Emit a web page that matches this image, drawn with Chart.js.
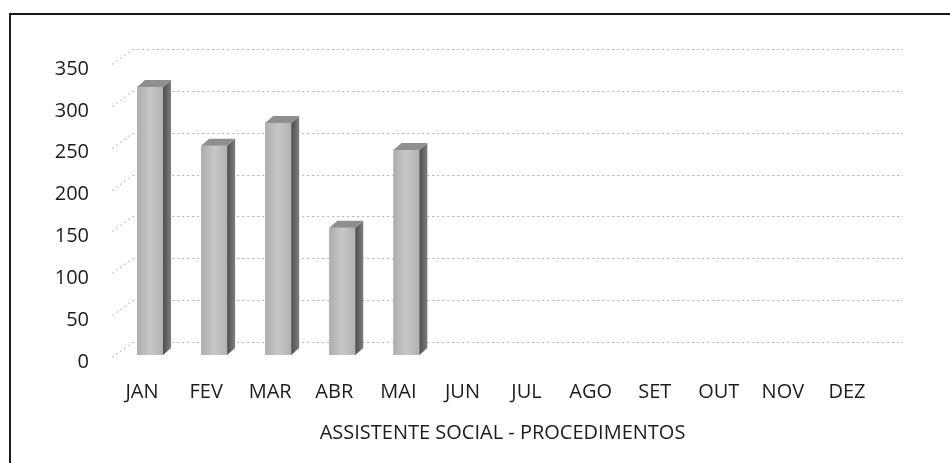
<!DOCTYPE html>
<html>
<head>
<meta charset="utf-8">
<script src="https://cdn.jsdelivr.net/npm/chart.js@4.4.1/dist/chart.umd.min.js"></script>
<style>
  html, body { margin: 0; padding: 0; background: #ffffff; }
  #wrap { position: relative; width: 950px; height: 463px; }
  #frame { position: absolute; left: 9px; top: 13px; width: 960px; height: 470px;
           border-left: 2px solid #1a1a1a; border-top: 2px solid #1a1a1a; box-sizing: border-box; }
  canvas { position: absolute; left: 0; top: 0; }
</style>
</head>
<body>
<div id="wrap">
  <div id="frame"></div>
  <canvas id="c" width="950" height="463"></canvas>
</div>
<script>
const categories = ['JAN','FEV','MAR','ABR','MAI','JUN','JUL','AGO','SET','OUT','NOV','DEZ'];
const procedimentos = [320, 250, 277, 152, 245, null, null, null, null, null, null, null];
const yTicks = [0, 50, 100, 150, 200, 250, 300, 350];
const axisTitle = 'ASSISTENTE SOCIAL - PROCEDIMENTOS';

const DEPTH_X = 8, DEPTH_Y = 7;

const wallGrid = {
  id: 'wallGrid',
  beforeDatasetsDraw(chart) {
    const ctx = chart.ctx, y = chart.scales.y, a = chart.chartArea;
    ctx.save();
    ctx.strokeStyle = '#b0b0b0';
    ctx.lineWidth = 1;
    ctx.setLineDash([2, 3]);
    yTicks.forEach(v => {
      const py = Math.round(y.getPixelForValue(v)) + 0.5;
      ctx.beginPath();
      ctx.moveTo(a.left - 6, py + 2);
      ctx.lineTo(a.left + 15, py - 13);
      ctx.lineTo(a.right + 16, py - 13);
      ctx.stroke();
    });
    ctx.restore();
  }
};

const bar3d = {
  id: 'bar3d',
  afterDatasetsDraw(chart) {
    const ctx = chart.ctx;
    const meta = chart.getDatasetMeta(0);
    ctx.save();
    meta.data.forEach((el, i) => {
      if (procedimentos[i] == null) return;
      const p = el.getProps(['x', 'y', 'base', 'width'], true);
      if (![p.x, p.y, p.base, p.width].every(Number.isFinite)) return;
      const l = p.x - p.width / 2, r = p.x + p.width / 2, t = p.y, b = p.base;
      // front face shading
      const fg = ctx.createLinearGradient(l, 0, r, 0);
      fg.addColorStop(0, '#adadad');
      fg.addColorStop(0.5, '#c8c8c8');
      fg.addColorStop(1, '#b2b2b2');
      ctx.fillStyle = fg;
      ctx.fillRect(l, t, r - l, b - t);
      // side face
      const sg = ctx.createLinearGradient(r, 0, r + DEPTH_X, 0);
      sg.addColorStop(0, '#4e4e4e');
      sg.addColorStop(1, '#7e7e7e');
      ctx.fillStyle = sg;
      ctx.beginPath();
      ctx.moveTo(r, t);
      ctx.lineTo(r + DEPTH_X, t - DEPTH_Y);
      ctx.lineTo(r + DEPTH_X, b - DEPTH_Y);
      ctx.lineTo(r, b);
      ctx.closePath();
      ctx.fill();
      // top face
      ctx.fillStyle = '#8f8f8f';
      ctx.beginPath();
      ctx.moveTo(l, t);
      ctx.lineTo(l + DEPTH_X, t - DEPTH_Y);
      ctx.lineTo(r + DEPTH_X, t - DEPTH_Y);
      ctx.lineTo(r, t);
      ctx.closePath();
      ctx.fill();
    });
    ctx.restore();
  }
};

const ctx = document.getElementById('c').getContext('2d');

new Chart(ctx, {
  type: 'bar',
  data: {
    labels: categories,
    datasets: [{
      label: axisTitle,
      data: procedimentos,
      backgroundColor: '#bcbcbc',
      borderWidth: 0,
      barPercentage: 0.405,
      categoryPercentage: 1.0
    }]
  },
  options: {
    responsive: false,
    animation: false,
    layout: { padding: { left: 0, right: 63, top: 62, bottom: 0 } },
    plugins: { legend: { display: false }, tooltip: { enabled: false } },
    scales: {
      x: {
        grid: { display: false, drawTicks: false },
        border: { display: false },
        ticks: {
          color: '#1c1c1c',
          font: { family: 'Open Sans', size: 20 },
          padding: 25,
          labelOffset: -8,
          maxRotation: 0,
          autoSkip: false
        },
        title: {
          display: true,
          text: axisTitle,
          color: '#1c1c1c',
          font: { family: 'Open Sans', size: 20 },
          padding: { top: 0, bottom: 18 }
        },
        afterFit(scale) { scale.height = 108; }
      },
      y: {
        min: 0,
        max: 350,
        grid: { display: false, drawTicks: false },
        border: { display: false },
        afterBuildTicks(scale) { scale.ticks = yTicks.map(v => ({ value: v })); },
        ticks: {
          color: '#1c1c1c',
          font: { family: 'Open Sans', size: 20 },
          padding: 29,
          labelOffset: 7
        },
        afterFit(scale) { scale.width = 118; }
      }
    }
  },
  plugins: [wallGrid, bar3d]
});
</script>
</body>
</html>
